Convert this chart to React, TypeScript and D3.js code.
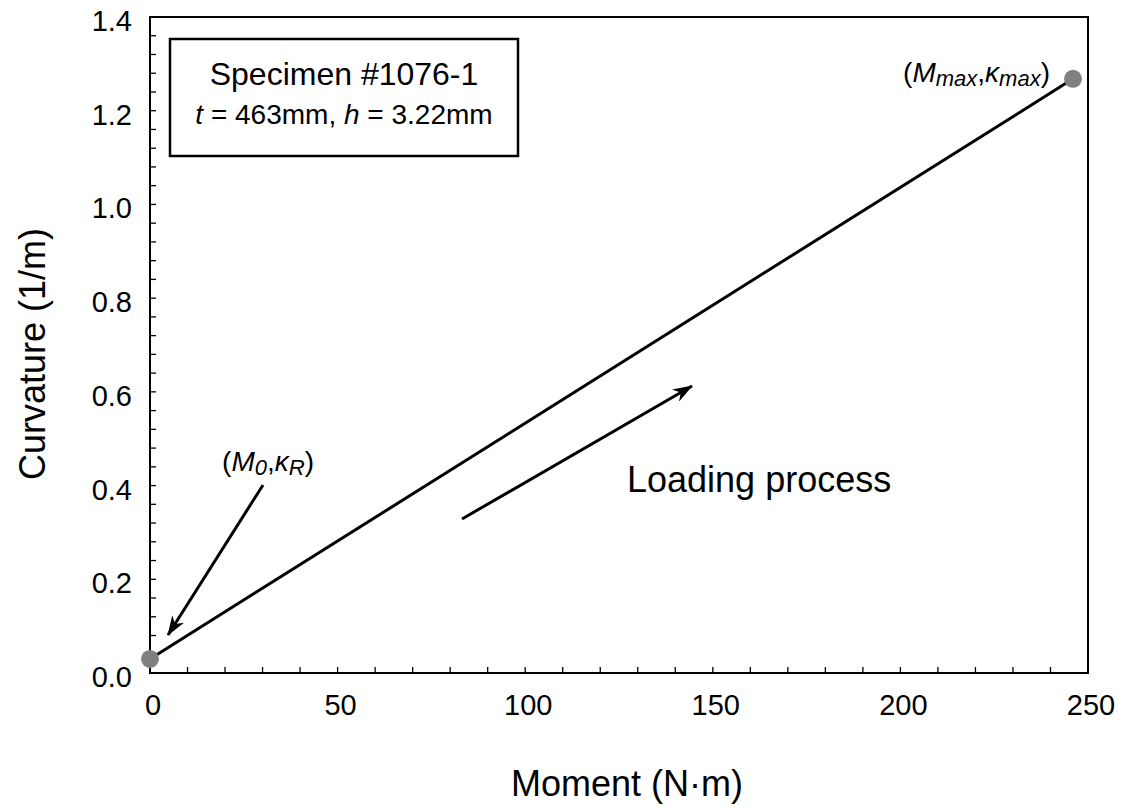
import React from "react";
import * as d3 from "d3";

const xTicks = [0, 50, 100, 150, 200, 250];
const yTicks = [0, 0.2, 0.4, 0.6, 0.8, 1.0, 1.2, 1.4];
const momentValues = [0, 246];
const curvatureValues = [0.03, 1.268];
const boxTitle = "Specimen #1076-1";

const W = 1131, H = 808;
const L = 150, R = 1088, T = 17, B = 673;
const FONT = "'Liberation Sans', Arial, Helvetica, sans-serif";

export default function App() {
  const x = d3.scaleLinear().domain([0, 250]).range([L, R]);
  const y = d3.scaleLinear().domain([0, 1.4]).range([B, T]);
  const pts = momentValues.map((m, i) => [m, curvatureValues[i]] as [number, number]);
  const line = d3.line<[number, number]>().x(d => x(d[0])).y(d => y(d[1]));
  const xMinor = d3.range(0, 251, 10);
  const yMinor = d3.range(0, 141, 4).map(v => v / 100);

  return (
    <svg width={W} height={H} style={{ position: "absolute", left: 0, top: 0 }} fontFamily={FONT}>
      <defs>
        <marker id="ah" viewBox="0 0 20 14" refX="19" refY="7" markerWidth="20" markerHeight="14" markerUnits="userSpaceOnUse" orient="auto">
          <path d="M0,0 L20,7 L0,14 L6,7 Z" fill="#000" />
        </marker>
      </defs>
      <rect x={0} y={0} width={W} height={H} fill="#fff" />
      {xMinor.map(v => (
        <line key={"xm" + v} x1={x(v)} x2={x(v)} y1={B} y2={B - 6} stroke="#000" strokeWidth={1.3} />
      ))}
      {yMinor.map(v => (
        <line key={"ym" + v} x1={L} x2={L + 6} y1={y(v)} y2={y(v)} stroke="#000" strokeWidth={1.3} />
      ))}
      <rect x={L} y={T} width={R - L} height={B - T} fill="none" stroke="#000" strokeWidth={2} />
      {xTicks.map(v => (
        <text key={"xt" + v} x={x(v) + 3} y={B + 42} textAnchor="middle" fontSize={29}>{v}</text>
      ))}
      {yTicks.map(v => (
        <text key={"yt" + v} x={L - 18} y={y(v) + 14} textAnchor="end" fontSize={29}>{v.toFixed(1)}</text>
      ))}
      <text x={627} y={796} textAnchor="middle" fontSize={36}>Moment (N·m)</text>
      <text transform={`translate(45,354) rotate(-90)`} textAnchor="middle" fontSize={36}>Curvature (1/m)</text>
      <path d={line(pts) || ""} fill="none" stroke="#000" strokeWidth={3} />
      {pts.map((p, i) => (
        <circle key={"p" + i} cx={x(p[0])} cy={y(p[1])} r={9} fill="#808080" />
      ))}
      <rect x={170} y={39} width={348} height={117} fill="#fff" stroke="#000" strokeWidth={2.5} />
      <text x={344} y={85} textAnchor="middle" fontSize={32}>{boxTitle}</text>
      <text x={344} y={124} textAnchor="middle" fontSize={28}>
        <tspan fontStyle="italic">t</tspan> = 463mm, <tspan fontStyle="italic">h</tspan> = 3.22mm
      </text>
      <text x={1050} y={82} textAnchor="end" fontSize={28}>
        (<tspan fontStyle="italic">M</tspan><tspan fontStyle="italic" fontSize={22} dy={4}>max</tspan><tspan dy={-4}>,</tspan><tspan fontStyle="italic">κ</tspan><tspan fontStyle="italic" fontSize={22} dy={4}>max</tspan><tspan dy={-4}>)</tspan>
      </text>
      <text x={268} y={471} textAnchor="middle" fontSize={28}>
        (<tspan fontStyle="italic">M</tspan><tspan fontStyle="italic" fontSize={22} dy={4}>0</tspan><tspan dy={-4}>,</tspan><tspan fontStyle="italic">κ</tspan><tspan fontStyle="italic" fontSize={22} dy={4}>R</tspan><tspan dy={-4}>)</tspan>
      </text>
      <line x1={263} y1={485} x2={168} y2={635} stroke="#000" strokeWidth={3} markerEnd="url(#ah)" />
      <line x1={462} y1={519} x2={692} y2={386} stroke="#000" strokeWidth={3} markerEnd="url(#ah)" />
      <text x={627} y={492} fontSize={36}>Loading process</text>
    </svg>
  );
}
